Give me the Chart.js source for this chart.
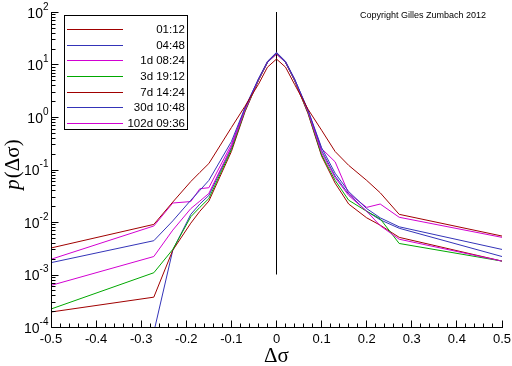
<!DOCTYPE html>
<html><head><meta charset="utf-8">
<script src="https://cdn.jsdelivr.net/npm/chart.js@4/dist/chart.umd.min.js"></script>
<style>html,body{margin:0;padding:0;background:#fff;}canvas{display:block;}</style>
</head><body>
<canvas id="c" width="512" height="366"></canvas>
<script>
// ---- data ----
const xValues = [-0.5, -0.272, -0.23, -0.19, -0.17, -0.15, -0.1, -0.07, -0.04, -0.02, 0, 0.02, 0.04, 0.07, 0.1, 0.13, 0.16, 0.2, 0.23, 0.272, 0.5];
const seriesNames = ['01:12', '04:48', '1d 08:24', '3d 19:12', '7d 14:24', '30d 10:48', '102d 09:36'];
const s01h12  = [3.2e-3, 9.0e-3, 0.024, 0.059, 0.088, 0.13, 0.63, 1.6, 4.2, 8.9, 12.7, 8.9, 4.2, 1.4, 0.56, 0.22, 0.12, 0.062, 0.036, 0.014, 5.4e-3];
const s04h48  = [1.68e-3, 4.4e-3, 0.0105, 0.026, 0.04, 0.062, 0.34, 1.5, 5.3, 11.0, 16.6, 11.0, 5.3, 1.35, 0.26, 0.085, 0.038, 0.018, 0.012, 8.1e-3, 3.0e-3];
const s1d     = [6.2e-4, 2.2e-3, 7e-3, 0.018, 0.025, 0.035, 0.27, 1.35, 5.1, 11.0, 16.0, 11.0, 5.1, 1.25, 0.21, 0.07, 0.032, 0.016, 8.5e-3, 4.7e-3, 1.8e-3];
const s3d     = [2.2e-4, 1.08e-3, 3e-3, 0.0126, 0.019, 0.028, 0.24, 1.3, 5.0, 11.0, 16.2, 11.0, 5.0, 1.2, 0.19, 0.062, 0.026, 0.016, 0.0115, 3.9e-3, 1.8e-3];
const s7d     = [1.93e-4, 3.7e-4, 2.9e-3, 0.0095, 0.016, 0.025, 0.22, 1.25, 5.0, 11.0, 15.8, 11.0, 5.0, 1.15, 0.18, 0.055, 0.022, 0.012, 8.7e-3, 5.1e-3, 1.8e-3];
const s30d    = [null, 8e-5, 2.9e-3, 0.014, 0.022, 0.032, 0.26, 1.4, 5.3, 11.5, 17.0, 11.5, 5.3, 1.3, 0.23, 0.075, 0.034, 0.016, 0.011, 7.6e-3, 2.2e-3];
const s102d   = [1.95e-3, 8.4e-3, 0.023, 0.0245, 0.043, 0.045, 0.3, 1.45, 5.2, 11.2, 16.4, 11.2, 5.2, 1.3, 0.25, 0.14, 0.035, 0.019, 0.022, 0.0123, 5.1e-3];
const zeroLineX = [0, 0];
const zeroLineY = [1e-3, 100];
const xTickLabels = ['-0.5', '-0.4', '-0.3', '-0.2', '-0.1', '0', '0.1', '0.2', '0.3', '0.4', '0.5'];
const yTickExponents = ['2', '1', '0', '-1', '-2', '-3', '-4'];
const copyrightText = 'Copyright Gilles Zumbach 2012';

const seriesValues = [s01h12, s04h48, s1d, s3d, s7d, s30d, s102d];
const colors = ['#a00000', '#3434b8', '#d200d2', '#00a800', '#a00000', '#3434b8', '#d200d2'];

const datasets = seriesValues.map((vals, k) => ({
  label: seriesNames[k],
  data: xValues.map((x, i) => ({x: x, y: vals[i]})),
  borderColor: colors[k], borderWidth: 1, pointRadius: 0, tension: 0, fill: false
}));
datasets.push({
  label: 'zero',
  data: zeroLineX.map((x, i) => ({x: x, y: zeroLineY[i]})),
  borderColor: '#000', borderWidth: 1, pointRadius: 0, fill: false
});

const axesPlugin = {
  id: 'customAxes',
  afterDraw(chart) {
    const ctx = chart.ctx, xs = chart.scales.x, ys = chart.scales.y, a = chart.chartArea;
    ctx.save();
    ctx.strokeStyle = '#000'; ctx.fillStyle = '#000'; ctx.lineWidth = 1;
    const L = Math.round(a.left) + 0.5, B = Math.round(a.bottom) + 0.5;
    ctx.beginPath();
    ctx.moveTo(L, Math.round(a.top)); ctx.lineTo(L, B); ctx.lineTo(Math.round(a.right) + 1, B);
    ctx.stroke();
    // x ticks
    ctx.beginPath();
    for (let k = -25; k <= 25; k++) {
      const v = k * 0.02;
      const px = Math.floor(xs.getPixelForValue(v)) + 0.5;
      const len = (k % 5 === 0) ? 7 : 4;
      ctx.moveTo(px, B); ctx.lineTo(px, B - len);
    }
    ctx.stroke();
    ctx.font = '13px "Liberation Sans", Arial, sans-serif';
    ctx.textAlign = 'center'; ctx.textBaseline = 'top';
    xTickLabels.forEach(t => {
      const px = xs.getPixelForValue(parseFloat(t));
      ctx.fillText(t, px, B + 5);
    });
    // y ticks
    ctx.beginPath();
    yTickExponents.forEach(e => {
      const d = parseInt(e);
      const py = Math.round(ys.getPixelForValue(Math.pow(10, d))) + 0.5;
      ctx.moveTo(L, py); ctx.lineTo(L + 7, py);
      if (d < 2) {
        for (let m = 2; m <= 9; m++) {
          const pm = Math.round(ys.getPixelForValue(m * Math.pow(10, d))) + 0.5;
          ctx.moveTo(L, pm); ctx.lineTo(L + 4, pm);
        }
      }
    });
    ctx.stroke();
    ctx.textAlign = 'right'; ctx.textBaseline = 'middle';
    yTickExponents.forEach(e => {
      const d = parseInt(e);
      const py = ys.getPixelForValue(Math.pow(10, d));
      const rx = L - 3;
      ctx.font = '10px "Liberation Sans", Arial, sans-serif';
      const sw = ctx.measureText(e).width;
      ctx.fillText(e, rx, py - 5);
      ctx.font = '14px "Liberation Sans", Arial, sans-serif';
      ctx.fillText('10', rx - sw, py + 2);
    });
    // axis titles
    ctx.font = '21px "Liberation Serif", serif';
    ctx.textAlign = 'center'; ctx.textBaseline = 'alphabetic';
    ctx.fillText('Δσ', (a.left + a.right) / 2, 362);
    ctx.save();
    ctx.translate(19, 165);
    ctx.rotate(-Math.PI / 2);
    ctx.textAlign = 'left';
    ctx.font = 'italic 21px "Liberation Serif", serif';
    const pw = ctx.measureText('p').width;
    ctx.font = '21px "Liberation Serif", serif';
    const rw = ctx.measureText('(Δσ)').width;
    const sx = -(pw + rw) / 2;
    ctx.font = 'italic 21px "Liberation Serif", serif';
    ctx.fillText('p', sx, 0);
    ctx.font = '21px "Liberation Serif", serif';
    ctx.fillText('(Δσ)', sx + pw + 1, 0);
    ctx.restore();
    // legend
    ctx.fillStyle = '#ffffff';
    ctx.fillRect(64.5, 15.5, 123, 114);
    ctx.strokeStyle = '#000000';
    ctx.lineWidth = 1;
    ctx.strokeRect(64.5, 15.5, 123, 114);
    ctx.font = '11.5px "Liberation Sans", Arial, sans-serif';
    ctx.textAlign = 'right'; ctx.textBaseline = 'middle';
    for (let k = 0; k < seriesNames.length; k++) {
      const y = Math.round(29.3 + k * 15.57) + 0.5;
      ctx.beginPath();
      ctx.strokeStyle = chart.data.datasets[k].borderColor;
      ctx.lineWidth = 1;
      ctx.moveTo(67, y); ctx.lineTo(123, y);
      ctx.stroke();
      ctx.fillStyle = '#000000';
      ctx.fillText(seriesNames[k], 185, y);
    }
    // copyright
    ctx.font = '9px "Liberation Sans", Arial, sans-serif';
    ctx.textAlign = 'left'; ctx.textBaseline = 'middle';
    ctx.fillText(copyrightText, 360, 16);
    ctx.restore();
  }
};

new Chart(document.getElementById('c'), {
  type: 'line',
  data: {datasets: datasets},
  options: {
    responsive: false, devicePixelRatio: 1, animation: false,
    layout: {padding: {left: 51, right: 10, top: 12, bottom: 39}},
    plugins: {legend: {display: false}, tooltip: {enabled: false}},
    scales: {
      x: {type: 'linear', min: -0.5, max: 0.5, display: false},
      y: {type: 'logarithmic', min: 1e-4, max: 100, display: false}
    }
  },
  plugins: [axesPlugin]
});
</script>
</body></html>
